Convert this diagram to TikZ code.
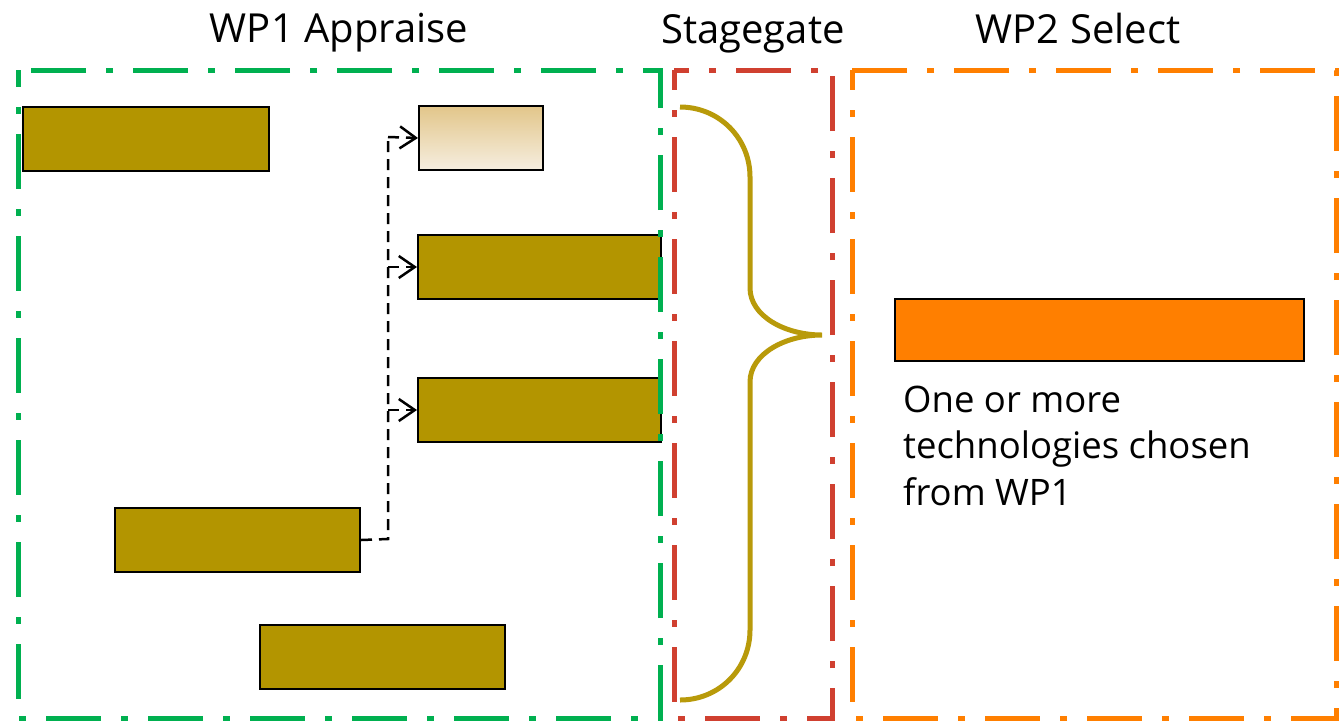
\documentclass[tikz,border=0pt]{standalone}
\usepackage{fontspec}
\setmainfont{Open Sans}
\usetikzlibrary{arrows.meta}
\definecolor{wpgreen}{HTML}{00B050}
\definecolor{gatered}{HTML}{D04030}
\definecolor{wporange}{HTML}{FF7F00}
\definecolor{olive}{HTML}{B39500}
\definecolor{bracegold}{HTML}{B89A0A}
\definecolor{paletop}{HTML}{E2C68A}
\definecolor{palebot}{HTML}{F6EEE0}
\tikzset{
  frame/.style={line width=5pt, dash pattern=on 55pt off 20pt on 7pt off 20pt, line cap=butt},
  task/.style={draw=black, line width=2pt, fill=olive, minimum height=64pt, inner sep=0pt, anchor=north west},
  title/.style={font=\fontsize{40}{48}\selectfont, text=black, inner sep=0pt, anchor=base},
  note/.style={font=\fontsize{36.5}{47}\selectfont, text=black, inner sep=0pt, anchor=base west},
  link/.style={line width=2.5pt, dash pattern=on 11pt off 7pt},
  linkarrow/.style={link, -{Straight Barb[length=16pt,width=22pt,line width=2.5pt]}}
}
\begin{document}
\begin{tikzpicture}[x=1pt,y=-1pt]
  \useasboundingbox (0,0) rectangle (1340,721);

  % task bars of WP1
  \node[task, minimum width=246pt] (b1) at (22,106) {};
  \node[draw=black, line width=2pt, top color=paletop, bottom color=palebot,
        minimum width=124pt, minimum height=64pt, inner sep=0pt, anchor=north west] (b2) at (418,105) {};
  \node[task, minimum width=243pt] (b3) at (417,234) {};
  \node[task, minimum width=243pt] (b4) at (417,377) {};
  \node[task, minimum width=245pt] (b5) at (114,507) {};
  \node[task, minimum width=245pt] (b6) at (259,624) {};

  % WP2 bar and its note
  \node[task, fill=wporange, minimum width=409pt, minimum height=62pt] (s1) at (894,298) {};
  \node[note] (n1) at (903,412) {One or more};
  \node[note] (n2) at (903,458.5) {technologies chosen};
  \node[note] (n3) at (903,505) {from WP1};

  % dependency links
  \coordinate (j) at (388,539);
  \coordinate (jt) at (388,137);
  \draw[link] (b5.east) -- (j) -- (jt);
  \draw[linkarrow] (jt) -- (b2.west);
  \draw[linkarrow] (j |- b3.west) -- (b3.west);
  \draw[linkarrow] (j |- b4.west) -- (b4.west);

  % phase frames
  \draw[frame, draw=wpgreen, dash phase=38pt] (18,70) rectangle (660,718);
  \draw[frame, draw=gatered, dash phase=35pt] (674,70) rectangle (832,718);
  \draw[frame, draw=wporange, dash phase=35pt] (852,70) rectangle (1336,718);

  % stage gate brace
  \draw[bracegold, line width=5pt]
    (680,107) .. controls (719,107) and (750,138) .. (750,177)
    -- (750,288) .. controls (750,316) and (785,335) .. (822,335)
    .. controls (785,335) and (750,354) .. (750,382)
    -- (750,630) .. controls (750,669) and (719,700) .. (680,700);

  % titles
  \node[title] (t1) at (339,42) {WP1 Appraise};
  \node[title] (t2) at (753,43) {Stagegate};
  \node[title] (t3) at (1078,43) {WP2 Select};
\end{tikzpicture}
\end{document}
